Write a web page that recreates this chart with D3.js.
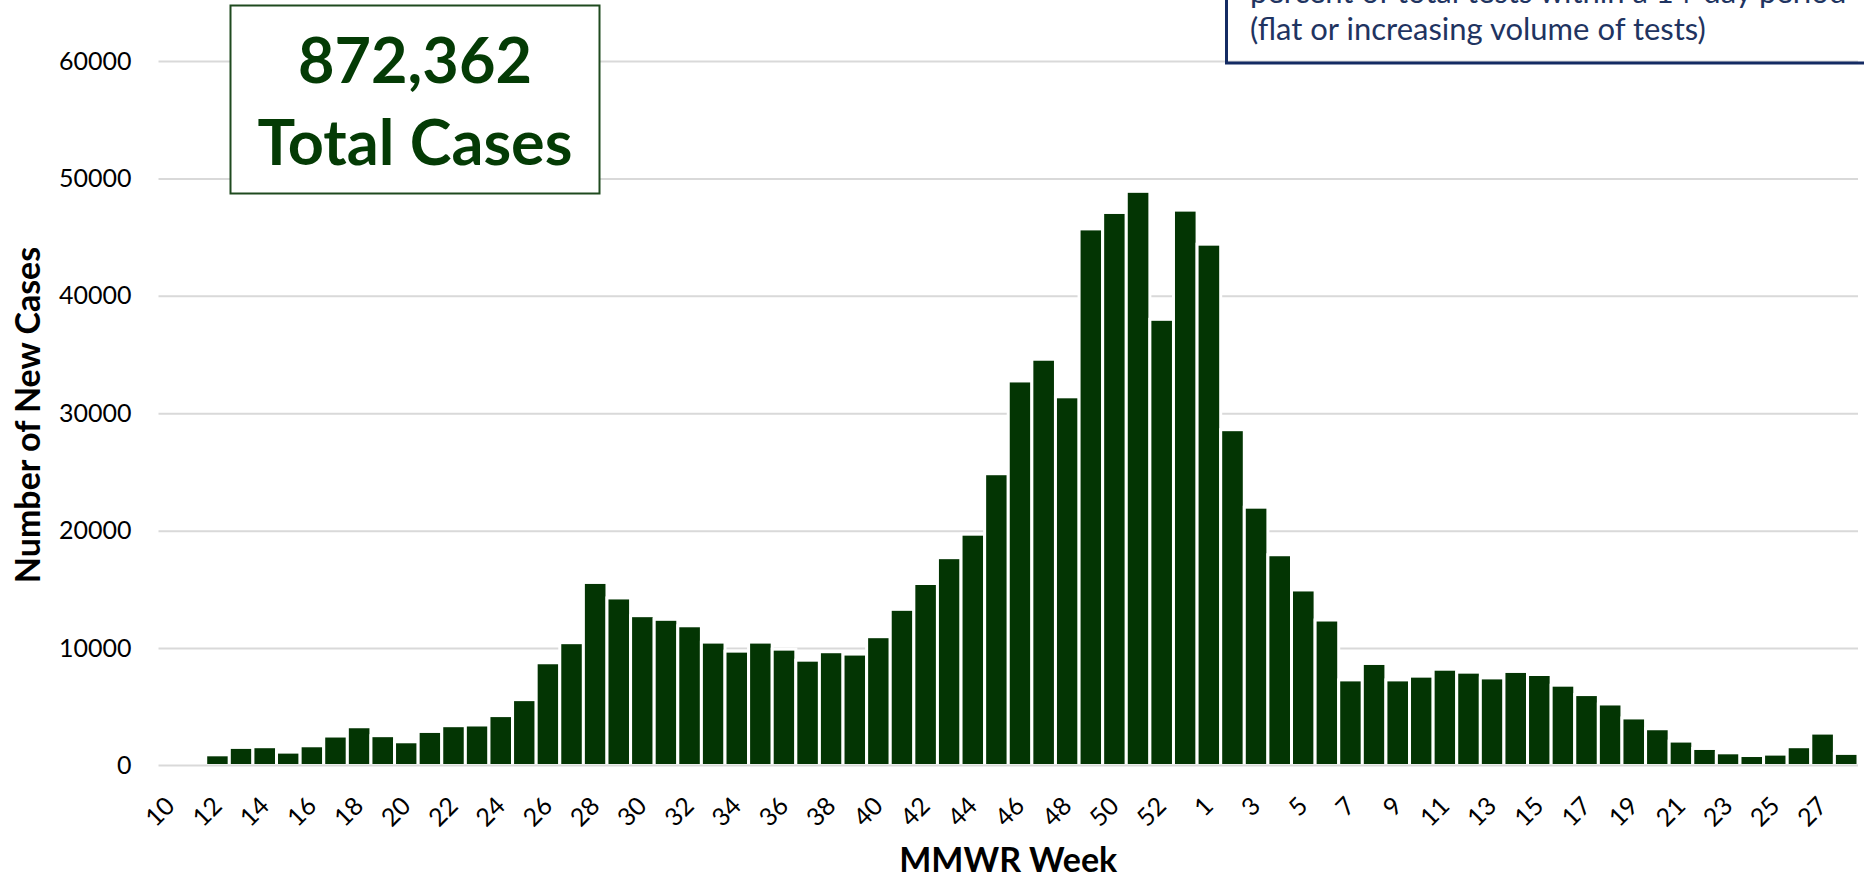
<!DOCTYPE html>
<html>
<head>
<meta charset="utf-8">
<script src="https://cdn.jsdelivr.net/npm/d3@7"></script>
<style>
  body { margin: 0; background: #fff; }
  text { font-family: Lato, "Noto Sans", sans-serif; }
</style>
</head>
<body>
<div id="chart"></div>
<script>
// MMWR weeks shown on the x axis (2020 runs to week 53, then 2021)
const weeks2020 = [10, 11, 12, 13, 14, 15, 16, 17, 18, 19, 20, 21, 22, 23, 24, 25, 26, 27, 28, 29,
  30, 31, 32, 33, 34, 35, 36, 37, 38, 39, 40, 41, 42, 43, 44, 45, 46, 47, 48, 49, 50, 51, 52, 53];
const weeks2021 = [1, 2, 3, 4, 5, 6, 7, 8, 9, 10, 11, 12, 13, 14, 15, 16, 17, 18, 19, 20,
  21, 22, 23, 24, 25, 26, 27, 28];

// new cases per week
const cases2020 = [0, 0, 910, 1540, 1600, 1140, 1680, 2510, 3300, 2540, 2020, 2900, 3390, 3450, 4250, 5610,
  8750, 10460, 15590, 14270, 12760, 12450, 11900, 10510, 9740, 10510, 9910, 8970, 9690, 9490,
  10970, 13300, 15500, 17700, 19700, 24850, 32750, 34600, 31400, 45700, 47100, 48900, 38000, 47300];
const cases2021 = [44400, 28600, 22000, 17950, 14950, 12390, 7290, 8690, 7290, 7610, 8200, 7950, 7460,
  8010, 7750, 6840, 6040, 5240, 4050, 3130, 2080, 1450, 1080, 850, 970, 1600, 2760, 1030];

const yTicks = [0, 10000, 20000, 30000, 40000, 50000, 60000];
const totalLabel = ["872,362", "Total Cases"];
const noteLines = ["percent of total tests within a 14-day period", "(flat or increasing volume of tests)"];

const data = weeks2020.map((w, i) => ({ key: "2020-" + w, week: w, value: cases2020[i] }))
  .concat(weeks2021.map((w, i) => ({ key: "2021-" + w, week: w, value: cases2021[i] })));

const W = 1864, H = 879;
const plotLeft = 158.5, plotRight = 1858, plotTop = 61, plotBottom = 765.5;

const svg = d3.select("#chart").append("svg")
  .attr("width", W)
  .attr("height", H);

const x = d3.scaleBand()
  .domain(data.map(d => d.key))
  .range([plotLeft, plotRight])
  .paddingInner(0)
  .paddingOuter(0);

const y = d3.scaleLinear()
  .domain([0, 60000])
  .range([plotBottom, plotTop]);

// gridlines (zero line is drawn again over the bars)
svg.append("g")
  .attr("transform", `translate(${plotLeft},0)`)
  .call(d3.axisLeft(y).tickValues(yTicks.slice(1)).tickSize(-(plotRight - plotLeft)).tickFormat(""))
  .call(g => g.select(".domain").remove())
  .call(g => g.selectAll("line").attr("stroke", "#d9d9d9").attr("stroke-width", 2));

// left value box
const boxG = svg.append("g");
boxG.append("rect")
  .attr("x", 230.5).attr("y", 5.5)
  .attr("width", 369).attr("height", 188)
  .attr("fill", "#fff")
  .attr("stroke", "#1f4a1f")
  .attr("stroke-width", 2);
boxG.selectAll("text")
  .data(totalLabel)
  .enter()
  .append("text")
  .attr("x", 415)
  .attr("y", (d, i) => 83 + i * 82)
  .attr("text-anchor", "middle")
  .attr("font-weight", 700)
  .attr("font-size", 63)
  .attr("fill", "#043b05")
  .text(d => d);

// cut-off note box at the top right
svg.append("rect")
  .attr("x", 1226.5).attr("y", -20)
  .attr("width", 700).attr("height", 83)
  .attr("fill", "none")
  .attr("stroke", "#142b63")
  .attr("stroke-width", 3);
svg.selectAll(".note")
  .data(noteLines)
  .enter()
  .append("text")
  .attr("class", "note")
  .attr("x", 1250)
  .attr("y", (d, i) => 3 + i * 37)
  .attr("font-size", 31)
  .attr("fill", "#1f3461")
  .text(d => d);

// bars
svg.selectAll(".bar")
  .data(data.filter(d => d.value > 0))
  .enter()
  .append("rect")
  .attr("class", "bar")
  .attr("x", d => x(d.key))
  .attr("width", x.bandwidth())
  .attr("y", d => y(d.value))
  .attr("height", d => y(0) - y(d.value))
  .attr("fill", "#033503")
  .attr("stroke", "#fff")
  .attr("stroke-width", 3);

// zero line
svg.append("line")
  .attr("x1", plotLeft).attr("x2", plotRight)
  .attr("y1", y(0)).attr("y2", y(0))
  .attr("stroke", "#d9d9d9")
  .attr("stroke-width", 2);

// y axis labels
svg.append("g")
  .attr("transform", `translate(${plotLeft},0)`)
  .call(d3.axisLeft(y).tickValues(yTicks).tickSize(0).tickPadding(27).tickFormat(d3.format("d")))
  .call(g => g.select(".domain").remove())
  .call(g => g.selectAll("text").attr("font-size", 25).attr("fill", "#000")
    .style("font-family", "Lato, sans-serif"));

// x axis labels, every second week, rotated
const labelKeys = data.filter((d, i) => i % 2 === 0).map(d => d.key);
svg.append("g")
  .attr("transform", `translate(0,${plotBottom})`)
  .call(d3.axisBottom(x).tickValues(labelKeys).tickSize(0).tickFormat(k => k.split("-")[1]))
  .call(g => g.select(".domain").remove())
  .call(g => g.selectAll("text")
    .attr("y", 0).attr("dy", 0)
    .attr("text-anchor", "end")
    .attr("transform", "translate(6,42) rotate(-45)")
    .attr("font-size", 25).attr("fill", "#000")
    .style("font-family", "Lato, sans-serif"));

// axis titles
svg.append("text")
  .attr("transform", `translate(40,415) rotate(-90)`)
  .attr("text-anchor", "middle")
  .attr("font-weight", 700)
  .attr("font-size", 34)
  .text("Number of New Cases");

svg.append("text")
  .attr("x", (plotLeft + plotRight) / 2)
  .attr("y", 872)
  .attr("text-anchor", "middle")
  .attr("font-weight", 700)
  .attr("font-size", 34)
  .text("MMWR Week");
</script>
</body>
</html>
